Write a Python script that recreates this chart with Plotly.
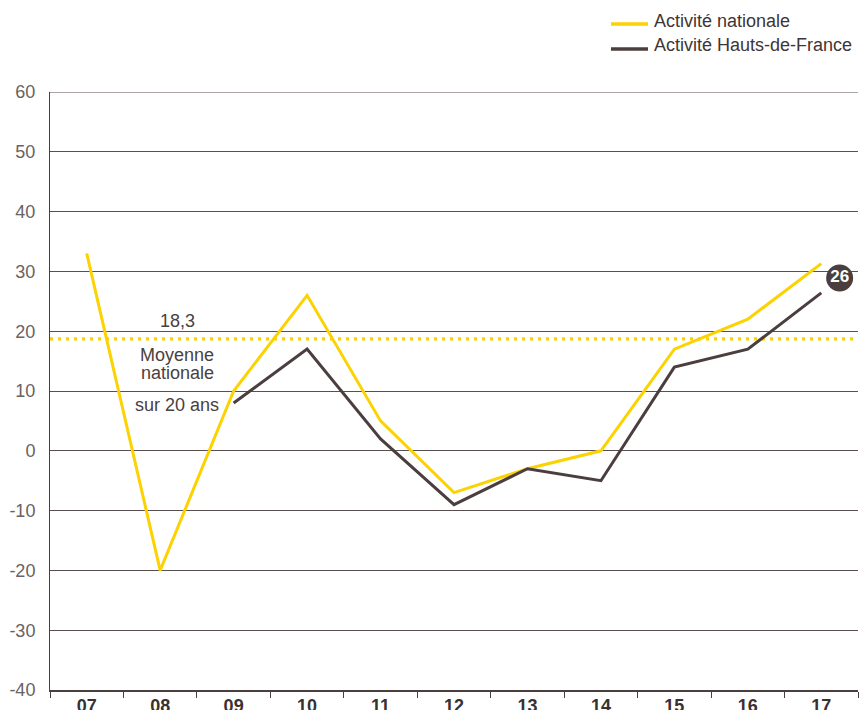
import plotly.graph_objects as go

years = ["07", "08", "09", "10", "11", "12", "13", "14", "15", "16", "17"]
nationale = [33, -20, 10, 26, 5, -7, -3, 0, 17, 22, 31.3]
hdf = [None, None, 8, 17, 2, -9, -3, -5, 14, 17, 26.4]
moyenne = 18.7
moyenne_label = "18,3"
badge_label = "26"
yticks = [-40, -30, -20, -10, 0, 10, 20, 30, 40, 50, 60]
series_names = ["Activité nationale", "Activité Hauts-de-France"]

YELLOW = "#FCD200"
DARK = "#4B3E3E"
GRID = "#5a4e4e"
TEXT = "#4a4040"
FONT = "Liberation Sans, Arial, sans-serif"

xs = list(range(len(years)))

fig = go.Figure()
fig.add_trace(go.Scatter(x=[-0.5, len(years) - 0.5], y=[moyenne, moyenne], mode="lines",
                         line=dict(color=YELLOW, width=3.2, dash="3px,5px"), showlegend=False, hoverinfo="skip"))
fig.add_trace(go.Scatter(x=xs, y=nationale, mode="lines", name=series_names[0],
                         line=dict(color=YELLOW, width=3), showlegend=False))
fig.add_trace(go.Scatter(x=xs, y=hdf, mode="lines", name=series_names[1],
                         line=dict(color=DARK, width=3), showlegend=False))
fig.add_trace(go.Scatter(x=[xs[-1] + 0.25], y=[hdf[-1] + 2.5], mode="markers+text",
                         marker=dict(size=27, color=DARK), text=[badge_label],
                         textposition="middle center",
                         textfont=dict(color="white", size=17, family=FONT, weight="bold"),
                         showlegend=False, hoverinfo="skip", cliponaxis=False))

ann_font = dict(family=FONT, size=18, color=TEXT)
fig.add_annotation(x=1.23, y=moyenne, text=moyenne_label, showarrow=False, yshift=18, font=ann_font)
fig.add_annotation(x=1.23, y=moyenne, text="Moyenne", showarrow=False, yshift=-16, font=ann_font)
fig.add_annotation(x=1.23, y=moyenne, text="nationale", showarrow=False, yshift=-34, font=ann_font)
fig.add_annotation(x=1.23, y=moyenne, text="sur 20 ans", showarrow=False, yshift=-66, font=ann_font)

# manual legend (paper coordinates)
leg_colors = [YELLOW, DARK]
leg_line_y = [1.1137, 1.0719]
leg_text_y = [1.1187, 1.0786]
for name, col, ly, ty in zip(series_names, leg_colors, leg_line_y, leg_text_y):
    fig.add_shape(type="line", xref="paper", yref="paper", x0=0.6943, x1=0.7401, y0=ly, y1=ly,
                  line=dict(color=col, width=3.5))
    fig.add_annotation(xref="paper", yref="paper", x=0.745, y=ty, text=name, showarrow=False,
                       xanchor="left", yanchor="middle",
                       font=dict(family=FONT, size=18, color="#3f3535"))

fig.update_layout(
    width=860, height=710,
    margin=dict(l=50, r=2, t=92, b=20, autoexpand=False),
    paper_bgcolor="white", plot_bgcolor="white",
    font=dict(family=FONT, size=15, color=TEXT),
    showlegend=False,
    xaxis=dict(range=[-0.5, len(years) - 0.5], tickmode="array", tickvals=xs,
               ticktext=["<b>%s</b>" % y for y in years], automargin=False,
               ticks="", showgrid=False, showline=True, linecolor=DARK, linewidth=1.5,
               tickfont=dict(size=18, color="#3a3030"), zeroline=False, ticklabelstandoff=-1,
               minor=dict(tickmode="linear", tick0=-0.5, dtick=1, ticks="outside", ticklen=6,
                          tickcolor=DARK, tickwidth=1, showgrid=False)),
    yaxis=dict(range=[-40, 60], tickmode="array", tickvals=yticks, ticktext=[str(v) for v in yticks],
               showgrid=True, automargin=False,
               gridcolor=GRID, gridwidth=1, showline=True, linecolor=DARK, linewidth=1,
               zeroline=False, ticks="", ticklabelstandoff=10,
               tickfont=dict(size=18, color="#6b6262")),
)
fig.add_shape(type="line", xref="paper", yref="y", x0=0, x1=1, y0=60, y1=60, line=dict(color=GRID, width=1), layer="below")

fig.write_html("out.html", config={"displayModeBar": False},
               post_script="document.body.style.margin='0';document.body.style.overflow='hidden';")
